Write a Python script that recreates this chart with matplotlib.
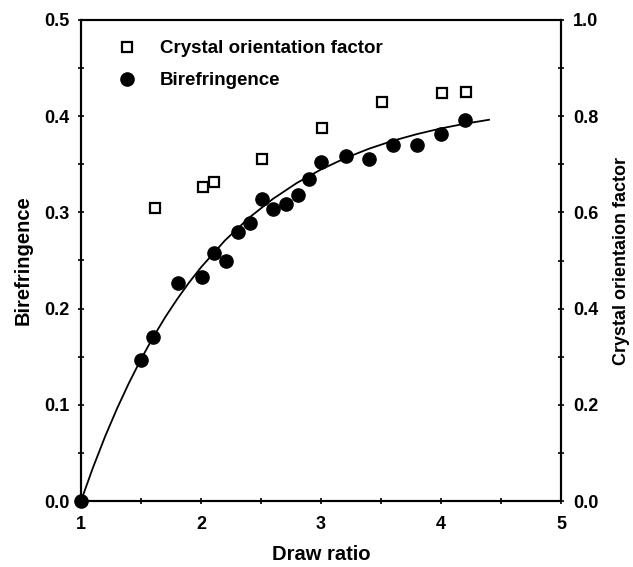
import matplotlib
matplotlib.use("Agg")
import matplotlib.pyplot as plt
from matplotlib.ticker import MultipleLocator

###############################################################################

plt.rcParams.update({
    "font.family": "Liberation Sans",
    "font.weight": "bold",
    "font.size": 13,
    "axes.linewidth": 1.5,
})

###############################################################################

# birefringence (left axis)
bire_x = [1.0, 1.50, 1.60, 1.81, 2.01, 2.11, 2.21, 2.31, 2.41, 2.51, 2.60,
          2.71, 2.81, 2.90, 3.00, 3.21, 3.40, 3.60, 3.80, 4.00, 4.20]
bire_y = [0.0, 0.147, 0.170, 0.227, 0.233, 0.258, 0.249, 0.280, 0.289, 0.314,
          0.304, 0.309, 0.318, 0.335, 0.352, 0.359, 0.356, 0.370, 0.370,
          0.381, 0.396]

# crystal orientation factor (right axis)
cof_x = [1.62, 2.02, 2.11, 2.51, 3.01, 3.51, 4.01, 4.21]
cof_y = [0.610, 0.653, 0.664, 0.711, 0.775, 0.830, 0.848, 0.851]

# fitted curve through the birefringence points
fit_x = [1.0, 1.1, 1.2, 1.3, 1.4, 1.5, 1.6, 1.7, 1.8, 1.9, 2.0, 2.2, 2.4,
         2.6, 2.8, 3.0, 3.2, 3.4, 3.6, 3.8, 4.0, 4.2, 4.4]
fit_y = [0.0, 0.0348, 0.0668, 0.0960, 0.1228, 0.1474, 0.1700, 0.1907, 0.2096,
         0.2270, 0.2429, 0.2709, 0.2944, 0.3141, 0.3307, 0.3446, 0.3563,
         0.3662, 0.3745, 0.3814, 0.3873, 0.3922, 0.3963]

###############################################################################

fig = plt.figure(figsize=(6.33, 5.67), dpi=100)
ax = fig.add_axes([81/633, 1-501/567, 480/633, 481/567])
ax2 = ax.twinx()

ax.plot(fit_x, fit_y, color="black", linewidth=1.3, zorder=2)
h_bire, = ax.plot(bire_x, bire_y, "o", color="black", markersize=9.5,
                  clip_on=False, zorder=3, label="Birefringence")
h_cof, = ax2.plot(cof_x, cof_y, "s", markerfacecolor="white",
                  markeredgecolor="black", markeredgewidth=1.6,
                  markersize=7, label="Crystal orientation factor")

ax.set_xlim(1, 5)
ax.set_ylim(0, 0.5)
ax2.set_ylim(0, 1.0)

ax.xaxis.set_major_locator(MultipleLocator(1))
ax.xaxis.set_minor_locator(MultipleLocator(0.5))
ax.yaxis.set_major_locator(MultipleLocator(0.1))
ax.yaxis.set_minor_locator(MultipleLocator(0.05))
ax2.yaxis.set_major_locator(MultipleLocator(0.2))
ax2.yaxis.set_minor_locator(MultipleLocator(0.1))
ax.yaxis.set_major_formatter(lambda v, p: f"{v:.1f}")
ax2.yaxis.set_major_formatter(lambda v, p: f"{v:.1f}")

for a in [ax, ax2]:
    a.tick_params(which="both", direction="inout", length=5, width=1.2,
                  labelsize=13)
ax.tick_params(axis="x", which="both", top=False, pad=8)
ax.tick_params(axis="y", which="both", pad=6)
ax2.tick_params(axis="y", which="both", pad=6)

ax.set_xlabel("Draw ratio", fontsize=14.5, fontweight="bold", labelpad=9)
ax.set_ylabel("Birefringence", fontsize=14.5, fontweight="bold", labelpad=8)
ax2.set_ylabel("Crystal orientaion factor", fontsize=13, fontweight="bold",
               labelpad=11)

ax.legend([h_cof, h_bire], ["Crystal orientation factor", "Birefringence"],
          loc="upper left", bbox_to_anchor=(0.078, 0.958), frameon=False,
          borderpad=0, borderaxespad=0, handlelength=0.95,
          handletextpad=1.25, labelspacing=0.8, numpoints=1,
          prop={"weight": "bold", "size": 13.5})

fig.savefig("out.png", dpi=100)
